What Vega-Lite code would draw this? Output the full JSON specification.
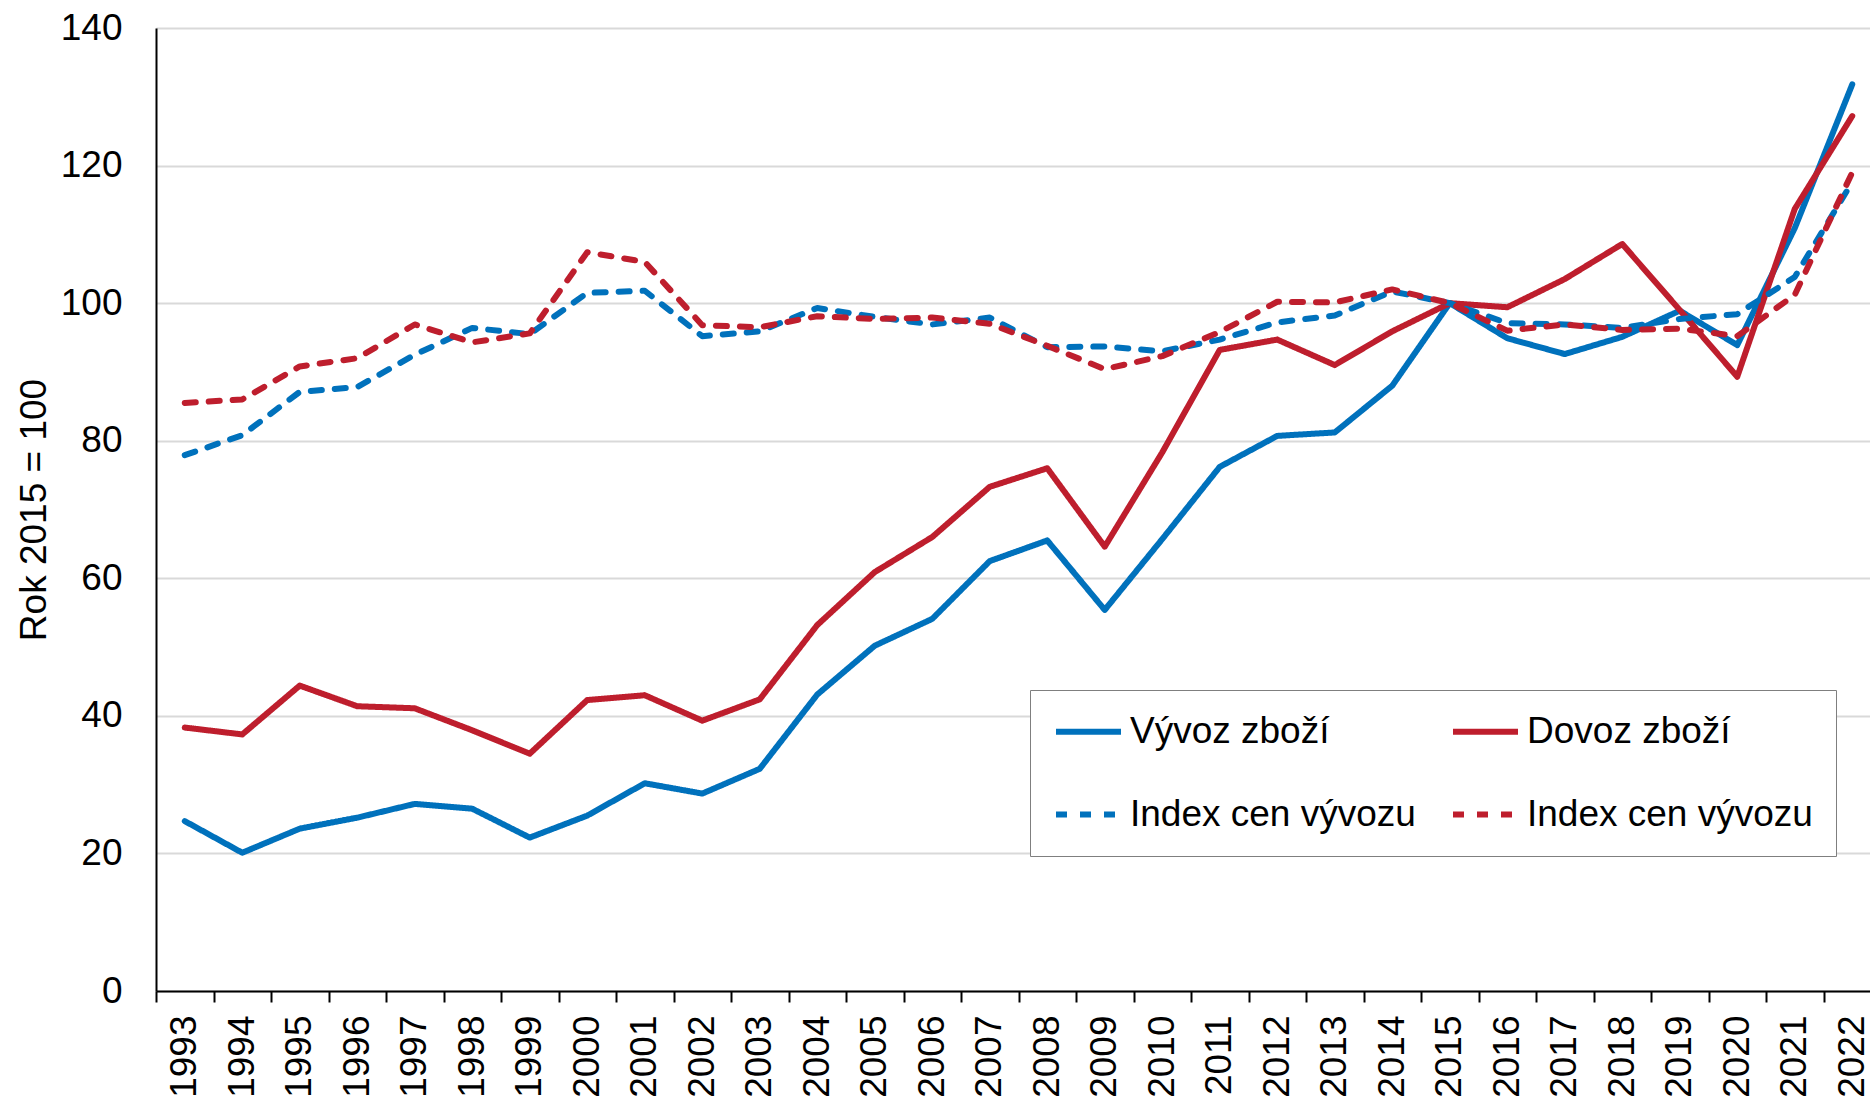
{
  "$schema": "https://vega.github.io/schema/vega-lite/v6.json",
  "width": 1725,
  "height": 963,
  "autosize": {"type": "none"},
  "padding": {"left": 156, "top": 28, "right": -11, "bottom": 107},
  "background": "white",
  "config": {
    "view": {"stroke": null},
    "font": "Liberation Sans"
  },
  "data": {
    "values": [
      {"year": "1993", "series": "Vývoz zboží", "value": 24.7},
      {"year": "1994", "series": "Vývoz zboží", "value": 20.1},
      {"year": "1995", "series": "Vývoz zboží", "value": 23.6},
      {"year": "1996", "series": "Vývoz zboží", "value": 25.2},
      {"year": "1997", "series": "Vývoz zboží", "value": 27.2},
      {"year": "1998", "series": "Vývoz zboží", "value": 26.5},
      {"year": "1999", "series": "Vývoz zboží", "value": 22.3},
      {"year": "2000", "series": "Vývoz zboží", "value": 25.5},
      {"year": "2001", "series": "Vývoz zboží", "value": 30.2},
      {"year": "2002", "series": "Vývoz zboží", "value": 28.7},
      {"year": "2003", "series": "Vývoz zboží", "value": 32.3},
      {"year": "2004", "series": "Vývoz zboží", "value": 43.1},
      {"year": "2005", "series": "Vývoz zboží", "value": 50.2},
      {"year": "2006", "series": "Vývoz zboží", "value": 54.1},
      {"year": "2007", "series": "Vývoz zboží", "value": 62.5},
      {"year": "2008", "series": "Vývoz zboží", "value": 65.5},
      {"year": "2009", "series": "Vývoz zboží", "value": 55.4},
      {"year": "2010", "series": "Vývoz zboží", "value": 65.7},
      {"year": "2011", "series": "Vývoz zboží", "value": 76.2},
      {"year": "2012", "series": "Vývoz zboží", "value": 80.7},
      {"year": "2013", "series": "Vývoz zboží", "value": 81.2},
      {"year": "2014", "series": "Vývoz zboží", "value": 88.0},
      {"year": "2015", "series": "Vývoz zboží", "value": 100.0},
      {"year": "2016", "series": "Vývoz zboží", "value": 94.9},
      {"year": "2017", "series": "Vývoz zboží", "value": 92.6},
      {"year": "2018", "series": "Vývoz zboží", "value": 95.1},
      {"year": "2019", "series": "Vývoz zboží", "value": 98.9},
      {"year": "2020", "series": "Vývoz zboží", "value": 93.9},
      {"year": "2021", "series": "Vývoz zboží", "value": 110.9},
      {"year": "2022", "series": "Vývoz zboží", "value": 131.8},

      {"year": "1993", "series": "Dovoz zboží", "value": 38.3},
      {"year": "1994", "series": "Dovoz zboží", "value": 37.3},
      {"year": "1995", "series": "Dovoz zboží", "value": 44.4},
      {"year": "1996", "series": "Dovoz zboží", "value": 41.4},
      {"year": "1997", "series": "Dovoz zboží", "value": 41.1},
      {"year": "1998", "series": "Dovoz zboží", "value": 37.9},
      {"year": "1999", "series": "Dovoz zboží", "value": 34.5},
      {"year": "2000", "series": "Dovoz zboží", "value": 42.3},
      {"year": "2001", "series": "Dovoz zboží", "value": 43.0},
      {"year": "2002", "series": "Dovoz zboží", "value": 39.3},
      {"year": "2003", "series": "Dovoz zboží", "value": 42.4},
      {"year": "2004", "series": "Dovoz zboží", "value": 53.2},
      {"year": "2005", "series": "Dovoz zboží", "value": 60.9},
      {"year": "2006", "series": "Dovoz zboží", "value": 66.0},
      {"year": "2007", "series": "Dovoz zboží", "value": 73.3},
      {"year": "2008", "series": "Dovoz zboží", "value": 76.0},
      {"year": "2009", "series": "Dovoz zboží", "value": 64.6},
      {"year": "2010", "series": "Dovoz zboží", "value": 78.3},
      {"year": "2011", "series": "Dovoz zboží", "value": 93.2},
      {"year": "2012", "series": "Dovoz zboží", "value": 94.7},
      {"year": "2013", "series": "Dovoz zboží", "value": 91.0},
      {"year": "2014", "series": "Dovoz zboží", "value": 95.9},
      {"year": "2015", "series": "Dovoz zboží", "value": 100.0},
      {"year": "2016", "series": "Dovoz zboží", "value": 99.4},
      {"year": "2017", "series": "Dovoz zboží", "value": 103.5},
      {"year": "2018", "series": "Dovoz zboží", "value": 108.6},
      {"year": "2019", "series": "Dovoz zboží", "value": 99.0},
      {"year": "2020", "series": "Dovoz zboží", "value": 89.3},
      {"year": "2021", "series": "Dovoz zboží", "value": 113.7},
      {"year": "2022", "series": "Dovoz zboží", "value": 127.2},

      {"year": "1993", "series": "Index cen vývozu", "value": 77.9},
      {"year": "1994", "series": "Index cen vývozu", "value": 80.8},
      {"year": "1995", "series": "Index cen vývozu", "value": 87.1},
      {"year": "1996", "series": "Index cen vývozu", "value": 87.8},
      {"year": "1997", "series": "Index cen vývozu", "value": 92.5},
      {"year": "1998", "series": "Index cen vývozu", "value": 96.4},
      {"year": "1999", "series": "Index cen vývozu", "value": 95.5},
      {"year": "2000", "series": "Index cen vývozu", "value": 101.5},
      {"year": "2001", "series": "Index cen vývozu", "value": 101.8},
      {"year": "2002", "series": "Index cen vývozu", "value": 95.2},
      {"year": "2003", "series": "Index cen vývozu", "value": 95.9},
      {"year": "2004", "series": "Index cen vývozu", "value": 99.3},
      {"year": "2005", "series": "Index cen vývozu", "value": 98.0},
      {"year": "2006", "series": "Index cen vývozu", "value": 96.9},
      {"year": "2007", "series": "Index cen vývozu", "value": 97.9},
      {"year": "2008", "series": "Index cen vývozu", "value": 93.6},
      {"year": "2009", "series": "Index cen vývozu", "value": 93.7},
      {"year": "2010", "series": "Index cen vývozu", "value": 93.0},
      {"year": "2011", "series": "Index cen vývozu", "value": 94.7},
      {"year": "2012", "series": "Index cen vývozu", "value": 97.2},
      {"year": "2013", "series": "Index cen vývozu", "value": 98.2},
      {"year": "2014", "series": "Index cen vývozu", "value": 101.7},
      {"year": "2015", "series": "Index cen vývozu", "value": 100.0},
      {"year": "2016", "series": "Index cen vývozu", "value": 97.1},
      {"year": "2017", "series": "Index cen vývozu", "value": 96.9},
      {"year": "2018", "series": "Index cen vývozu", "value": 96.4},
      {"year": "2019", "series": "Index cen vývozu", "value": 97.7},
      {"year": "2020", "series": "Index cen vývozu", "value": 98.4},
      {"year": "2021", "series": "Index cen vývozu", "value": 103.8},
      {"year": "2022", "series": "Index cen vývozu", "value": 117.6},

      {"year": "1993", "series": "Index cen dovozu", "value": 85.5},
      {"year": "1994", "series": "Index cen dovozu", "value": 86.0},
      {"year": "1995", "series": "Index cen dovozu", "value": 90.8},
      {"year": "1996", "series": "Index cen dovozu", "value": 92.0},
      {"year": "1997", "series": "Index cen dovozu", "value": 96.9},
      {"year": "1998", "series": "Index cen dovozu", "value": 94.3},
      {"year": "1999", "series": "Index cen dovozu", "value": 95.6},
      {"year": "2000", "series": "Index cen dovozu", "value": 107.4},
      {"year": "2001", "series": "Index cen dovozu", "value": 106.0},
      {"year": "2002", "series": "Index cen dovozu", "value": 96.8},
      {"year": "2003", "series": "Index cen dovozu", "value": 96.5},
      {"year": "2004", "series": "Index cen dovozu", "value": 98.1},
      {"year": "2005", "series": "Index cen dovozu", "value": 97.7},
      {"year": "2006", "series": "Index cen dovozu", "value": 97.9},
      {"year": "2007", "series": "Index cen dovozu", "value": 97.0},
      {"year": "2008", "series": "Index cen dovozu", "value": 93.8},
      {"year": "2009", "series": "Index cen dovozu", "value": 90.4},
      {"year": "2010", "series": "Index cen dovozu", "value": 92.3},
      {"year": "2011", "series": "Index cen dovozu", "value": 95.8},
      {"year": "2012", "series": "Index cen dovozu", "value": 100.2},
      {"year": "2013", "series": "Index cen dovozu", "value": 100.1},
      {"year": "2014", "series": "Index cen dovozu", "value": 102.0},
      {"year": "2015", "series": "Index cen dovozu", "value": 100.0},
      {"year": "2016", "series": "Index cen dovozu", "value": 96.0},
      {"year": "2017", "series": "Index cen dovozu", "value": 96.9},
      {"year": "2018", "series": "Index cen dovozu", "value": 96.1},
      {"year": "2019", "series": "Index cen dovozu", "value": 96.3},
      {"year": "2020", "series": "Index cen dovozu", "value": 95.2},
      {"year": "2021", "series": "Index cen dovozu", "value": 101.2},
      {"year": "2022", "series": "Index cen dovozu", "value": 119.0}
    ]
  },
  "mark": {"type": "line", "strokeWidth": 6, "strokeCap": "round", "strokeJoin": "round"},
  "encoding": {
    "x": {
      "field": "year",
      "type": "ordinal",
      "bandPosition": 0.5,
      "scale": {"type": "band", "paddingInner": 0, "paddingOuter": 0},
      "axis": {
        "title": null,
        "labelAngle": -90,
        "labelAlign": "right",
        "labelBaseline": "middle",
        "labelFontSize": 37,
        "labelColor": "black",
        "labelPadding": 13,
        "tickBand": "extent",
        "tickSize": 11,
        "tickColor": "black",
        "tickWidth": 2,
        "domainColor": "black",
        "domainWidth": 2,
        "grid": false
      }
    },
    "y": {
      "field": "value",
      "type": "quantitative",
      "scale": {"domain": [0, 140], "nice": false},
      "axis": {
        "title": "Rok 2015 = 100",
        "titleFontSize": 37,
        "titleFontWeight": "normal",
        "titleColor": "black",
        "titleX": -111,
        "titleY": 481.5,
        "titleAngle": -90,
        "titleAlign": "center",
        "titleBaseline": "alphabetic",
        "values": [0, 20, 40, 60, 80, 100, 120, 140],
        "labelFontSize": 37,
        "labelColor": "black",
        "labelPadding": 34,
        "ticks": false,
        "tickSize": 0,
        "domainColor": "black",
        "domainWidth": 2,
        "grid": true,
        "gridColor": "#d9d9d9",
        "gridWidth": 2
      }
    },
    "color": {
      "field": "series",
      "type": "nominal",
      "sort": ["Vývoz zboží", "Index cen vývozu", "Dovoz zboží", "Index cen dovozu"],
      "scale": {
        "domain": ["Vývoz zboží", "Index cen vývozu", "Dovoz zboží", "Index cen dovozu"],
        "range": ["#0071BC", "#0071BC", "#BE1E2D", "#BE1E2D"]
      },
      "legend": {
        "title": null,
        "orient": "none",
        "legendX": 874,
        "legendY": 662,
        "columns": 2,
        "symbolType": "M-1,0H3.194",
        "symbolSize": 961,
        "symbolStrokeWidth": 6,
        "labelFontSize": 37,
        "labelColor": "black",
        "labelLimit": 1000,
        "labelOffset": 40,
        "rowPadding": 45,
        "columnPadding": 25,
        "padding": 23,
        "strokeColor": "#7f7f7f",
        "fillColor": "white",
        "labelExpr": "datum.label == 'Index cen dovozu' ? 'Index cen vývozu' : datum.label"
      }
    },
    "strokeDash": {
      "field": "series",
      "type": "nominal",
      "sort": ["Vývoz zboží", "Index cen vývozu", "Dovoz zboží", "Index cen dovozu"],
      "scale": {
        "domain": ["Vývoz zboží", "Index cen vývozu", "Dovoz zboží", "Index cen dovozu"],
        "range": [[1, 0], [11, 13], [1, 0], [11, 13]]
      },
      "legend": {
        "title": null,
        "orient": "none",
        "legendX": 874,
        "legendY": 662,
        "columns": 2,
        "symbolType": "M-1,0H3.194",
        "symbolSize": 961,
        "symbolStrokeWidth": 6,
        "labelFontSize": 37,
        "labelColor": "black",
        "labelLimit": 1000,
        "labelOffset": 40,
        "rowPadding": 45,
        "columnPadding": 25,
        "padding": 23,
        "strokeColor": "#7f7f7f",
        "fillColor": "white",
        "labelExpr": "datum.label == 'Index cen dovozu' ? 'Index cen vývozu' : datum.label"
      }
    }
  }
}
